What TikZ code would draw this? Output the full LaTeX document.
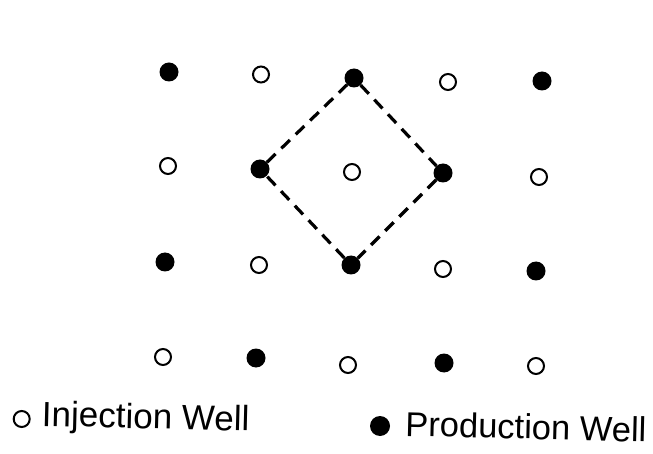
\documentclass[tikz,border=0pt]{standalone}
\usepackage{fontspec}
\setmainfont{Liberation Sans}
\begin{document}
\begin{tikzpicture}[x=1pt,y=-1pt,
  prod/.style={circle,fill=black,minimum size=19pt,inner sep=0pt},
  inj/.style={circle,draw=black,line width=2pt,minimum size=16pt,inner sep=0pt},
  pattern/.style={line width=3.2pt,dash pattern=on 12pt off 8pt},
  legendtext/.style={anchor=base west,inner sep=0pt,rotate=-1.4,font=\fontsize{35}{40}\selectfont}]
\useasboundingbox (0,0) rectangle (653,454);

% row 1
\node[prod] (p11) at (169,72) {};
\node[inj]  (p12) at (261,74.5) {};
\node[prod] (p13) at (354,78) {};
\node[inj]  (p14) at (448,82) {};
\node[prod] (p15) at (542,81) {};
% row 2
\node[inj]  (p21) at (168,166) {};
\node[prod] (p22) at (260,169) {};
\node[inj]  (p23) at (352,172) {};
\node[prod] (p24) at (443,173) {};
\node[inj]  (p25) at (539,177) {};
% row 3
\node[prod] (p31) at (165,262) {};
\node[inj]  (p32) at (259,265) {};
\node[prod] (p33) at (351,265) {};
\node[inj]  (p34) at (443,269) {};
\node[prod] (p35) at (536,271) {};
% row 4
\node[inj]  (p41) at (163,357) {};
\node[prod] (p42) at (256,358) {};
\node[inj]  (p43) at (348,365) {};
\node[prod] (p44) at (444,363) {};
\node[inj]  (p45) at (536,366) {};

% pattern element boundary
\draw[pattern] (p13) -- (p24);
\draw[pattern] (p24) -- (p33);
\draw[pattern] (p33) -- (p22);
\draw[pattern] (p22) -- (p13);

% legend
\node[inj] (keyinj) at (21.7,419) {};
\node[legendtext] (txtinj) at (41.5,426) {Injection Well};
\node[prod,minimum size=20pt] (keyprod) at (380,426) {};
\node[legendtext,font=\fontsize{34.5}{40}\selectfont] (txtprod) at (405,436) {Production Well};
\end{tikzpicture}
\end{document}
